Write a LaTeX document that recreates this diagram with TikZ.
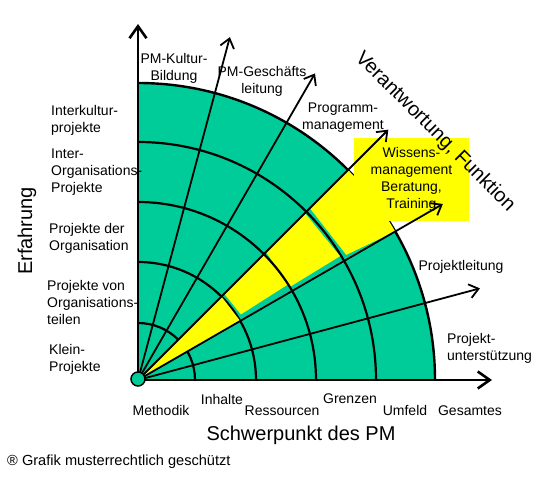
\documentclass[tikz,border=0pt]{standalone}
\usepackage{fontspec}
\setmainfont{Liberation Sans}
\usetikzlibrary{arrows.meta}
\definecolor{pmgreen}{RGB}{0,204,153}
\definecolor{pmyellow}{RGB}{255,255,0}
\begin{document}
\begin{tikzpicture}[x=1pt,y=1pt,
  lbl/.style={font=\fontsize{14}{17}\selectfont, inner sep=0pt, align=left},
  clbl/.style={font=\fontsize{14}{17}\selectfont, inner sep=0pt, align=center},
  big/.style={font=\fontsize{20}{24}\selectfont, inner sep=0pt},
  axisline/.style={line width=2.6pt, -{Straight Barb[length=12pt,width=17pt]}},
  rayline/.style={line width=1.8pt, -{Straight Barb[length=9pt,width=14pt]}},
  arcline/.style={line width=2.2pt},
  yel/.style={fill=pmyellow, draw=none}]
\useasboundingbox (0,0) rectangle (550,495);
\coordinate (O) at (138,115);
\begin{scope}[shift={(O)}]
  % green quarter disc
  \fill[pmgreen] (0,0) -- (297,0) arc[start angle=0,end angle=90,radius=297] -- cycle;
  % arcs below the yellow
  \foreach \r in {57,118,238}
    \draw[arcline] (\r,0) arc[start angle=0,end angle=90,radius=\r];
  \draw[line width=2.4pt] (297,0) arc[start angle=0,end angle=90,radius=297];
  % yellow segments
  \fill[yel] (0,0) -- (45:118) -- (30:118) -- cycle;
  \fill[yel] (45:122) -- (45:178) -- (32.5:179) -- (32.5:122) -- cycle;
  \fill[yel] (45:181) -- (45:236) -- (31.5:237) -- (31.5:178) -- cycle;
  \fill[yel] (45:243) -- (45:297) arc[start angle=45,end angle=30,radius=297] -- (31:243) -- cycle;
  % arc drawn over the yellow
  \draw[arcline] (178,0) arc[start angle=0,end angle=90,radius=178];
  % ray end points
  \coordinate (t0) at (354,0);
  \coordinate (t15) at (15:354);
  \coordinate (t30) at (30:352);
  \coordinate (t45) at (45:354);
  \coordinate (t60) at (60:354);
  \coordinate (t75) at (75:355);
  \coordinate (t90) at (0,356);
\end{scope}
% yellow box with text
\node[clbl, fill=pmyellow, minimum width=115pt, minimum height=83pt] (wiss) at (411.5,315.5)
  {Wissens-\\management\\Beratung,\\Training};
% rays and axes
\foreach \a in {15,30,45,60,75}
  \draw[rayline] (O) -- (t\a);
\draw[axisline] (O) -- (t0);
\draw[axisline] (O) -- (t90);
% origin circle
\node[circle, draw=black, line width=1.5pt, fill=pmgreen, minimum size=14pt, inner sep=0pt] (orig) at (138,116) {};
% left labels
\node[lbl, anchor=west] (l1) at (51,375) {Interkultur-\\projekte};
\node[lbl, anchor=west] (l2) at (51,323) {Inter-\\Organisations-\\Projekte};
\node[lbl, anchor=west] (l3) at (49,257) {Projekte der\\Organisation};
\node[lbl, anchor=west] (l4) at (47,192) {Projekte von\\Organisations-\\teilen};
\node[lbl, anchor=west] (l5) at (49,136) {Klein-\\Projekte};
\node[big, rotate=90] (erf) at (27,264) {Erfahrung};
% bottom labels
\node[lbl] (b1) at (161,84) {Methodik};
\node[lbl] (b2) at (222,95) {Inhalte};
\node[lbl] (b3) at (282,84) {Ressourcen};
\node[lbl] (b4) at (350,96) {Grenzen};
\node[lbl] (b5) at (405,84) {Umfeld};
\node[lbl] (b6) at (470,84) {Gesamtes};
\node[big] (schw) at (301,60) {Schwerpunkt des PM};
\node[lbl, anchor=west, font=\fontsize{14.6}{17}\selectfont] (copy) at (7,33) {® Grafik musterrechtlich geschützt};
% ray labels
\node[lbl] (r15) at (461,228) {Projektleitung};
\node[lbl, anchor=west] (r0) at (447,147) {Projekt-\\unterstützung};
\node[clbl] (r75) at (174,427) {PM-Kultur-\\Bildung};
\node[clbl] (r60) at (262,414) {PM-Geschäfts\\leitung};
\node[clbl] (r45) at (343,377) {Programm-\\management};
\node[big, rotate=-45] (verant) at (435,363) {Verantwortung, Funktion};
\end{tikzpicture}
\end{document}
